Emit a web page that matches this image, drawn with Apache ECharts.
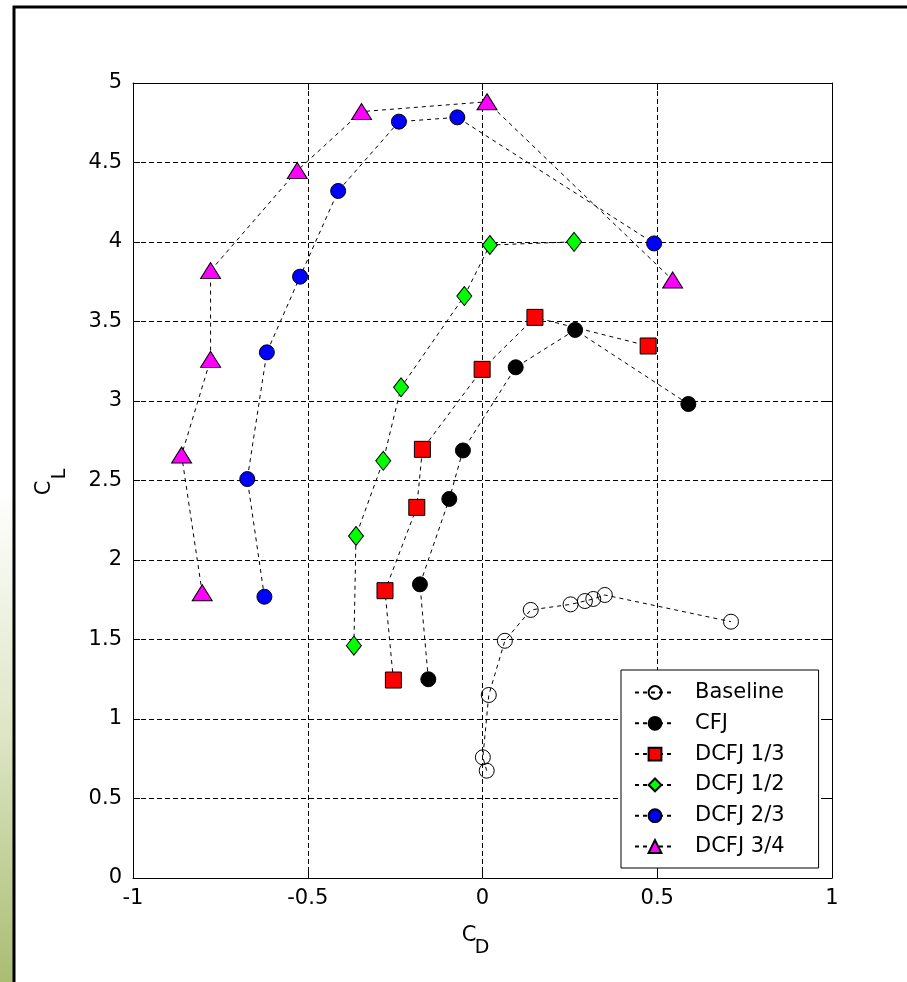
<!DOCTYPE html>
<html>
<head>
<meta charset="utf-8">
<script src="https://cdn.jsdelivr.net/npm/echarts@6/dist/echarts.min.js"></script>
<style>
html,body{margin:0;padding:0;background:#fff;}
#chart{width:907px;height:982px;}
</style>
</head>
<body>
<div id="chart"></div>
<script>
// ---- data (C_D, C_L) ----
const seriesNames = ['Baseline', 'CFJ', 'DCFJ 1/3', 'DCFJ 1/2', 'DCFJ 2/3', 'DCFJ 3/4'];

const baseCD = [0.012, 0.001, 0.018, 0.064, 0.138, 0.252, 0.293, 0.317, 0.350, 0.711];
const baseCL = [0.675, 0.759, 1.151, 1.492, 1.686, 1.721, 1.742, 1.755, 1.780, 1.612];

const cfjCD = [-0.155, -0.179, -0.095, -0.056, 0.095, 0.265, 0.589];
const cfjCL = [1.250, 1.847, 2.384, 2.689, 3.212, 3.447, 2.981];

const d13CD = [-0.255, -0.279, -0.188, -0.172, -0.001, 0.150, 0.474];
const d13CL = [1.245, 1.807, 2.331, 2.696, 3.199, 3.526, 3.346];

const d12CD = [-0.368, -0.362, -0.284, -0.233, -0.052, 0.021, 0.262];
const d12CL = [1.461, 2.151, 2.624, 3.086, 3.660, 3.981, 4.001];

const d23CD = [-0.624, -0.673, -0.617, -0.522, -0.413, -0.239, -0.072, 0.491];
const d23CL = [1.769, 2.509, 3.306, 3.782, 4.321, 4.757, 4.784, 3.991];

const d34CD = [-0.802, -0.861, -0.778, -0.778, -0.530, -0.346, 0.013, 0.544];
const d34CL = [1.794, 2.660, 3.262, 3.820, 4.449, 4.820, 4.882, 3.761];

const xTicks = [-1, -0.5, 0, 0.5, 1];
const yTicks = [0, 0.5, 1, 1.5, 2, 2.5, 3, 3.5, 4, 4.5, 5];

// ---- build ----
function pairs(xs, ys) { return xs.map((x, i) => [x, ys[i]]); }

const FONT = 'DejaVu Sans';
const FS = 21;

const styles = [
  {symbol: 'circle', size: 15, fill: 'rgba(0,0,0,0)'},
  {symbol: 'circle', size: 15, fill: '#000000'},
  {symbol: 'rect', size: 16, fill: '#ff0000'},
  {symbol: 'diamond', size: [15, 19], fill: '#00ff00'},
  {symbol: 'circle', size: 15, fill: '#0000ff'},
  {symbol: 'triangle', size: [20, 16], fill: '#ff00ff'}
];
const dataSets = [
  pairs(baseCD, baseCL),
  pairs(cfjCD, cfjCL),
  pairs(d13CD, d13CL),
  pairs(d12CD, d12CL),
  pairs(d23CD, d23CL),
  pairs(d34CD, d34CL)
];

const series = seriesNames.map((name, i) => ({
  name: name,
  type: 'line',
  data: dataSets[i],
  symbol: styles[i].symbol,
  symbolSize: styles[i].size,
  showAllSymbol: true,
  itemStyle: {color: styles[i].fill, borderColor: '#000', borderWidth: 1, opacity: 1},
  lineStyle: {color: '#000', width: 1, type: [4, 4]},
  emphasis: {disabled: true},
  z: 3 + i
}));

const axisCommon = {
  axisLine: {show: true, onZero: false, lineStyle: {color: '#000', width: 1}},
  axisTick: {show: true, inside: true, length: 7, lineStyle: {color: '#000', width: 1}}
};

const chart = echarts.init(document.getElementById('chart'), null, {renderer: 'canvas'});
chart.setOption({
  animation: false,
  backgroundColor: '#ffffff',
  grid: {left: 133, top: 83, width: 699, height: 795, show: true, backgroundColor: '#fff', borderWidth: 0},
  xAxis: [
    Object.assign({
      type: 'value', position: 'bottom', min: xTicks[0], max: xTicks[xTicks.length - 1], interval: 0.5,
      axisLabel: {color: '#000', fontFamily: FONT, fontSize: FS, margin: 10},
      splitLine: {show: true, lineStyle: {color: '#000', width: 1, type: [5, 3]}}
    }, axisCommon),
    Object.assign({
      type: 'value', position: 'top', min: xTicks[0], max: xTicks[xTicks.length - 1], interval: 0.5,
      axisLabel: {show: false}, splitLine: {show: false}
    }, axisCommon)
  ],
  yAxis: [
    Object.assign({
      type: 'value', position: 'left', min: yTicks[0], max: yTicks[yTicks.length - 1], interval: 0.5,
      axisLabel: {color: '#000', fontFamily: FONT, fontSize: FS, margin: 11},
      splitLine: {show: true, lineStyle: {color: '#000', width: 1, type: [5, 3]}}
    }, axisCommon),
    Object.assign({
      type: 'value', position: 'right', min: yTicks[0], max: yTicks[yTicks.length - 1], interval: 0.5,
      axisLabel: {show: false}, splitLine: {show: false}
    }, axisCommon)
  ],
  legend: {
    data: seriesNames,
    orient: 'vertical',
    left: 621, top: 670,
    padding: [12, 34, 11, 13],
    itemWidth: 40, itemHeight: 16, itemGap: 9.8,
    backgroundColor: '#fff',
    borderColor: '#000', borderWidth: 1, borderRadius: 0,
    selectedMode: false,
    textStyle: {color: '#000', fontFamily: FONT, fontSize: FS, lineHeight: 16, padding: [0, 0, 0, 15]}
  },
  series: series,
  graphic: [
    {
      type: 'rect', left: 0, top: 0, z: -10, silent: true,
      shape: {x: 0, y: 0, width: 13, height: 982},
      style: {fill: new echarts.graphic.LinearGradient(0, 0, 0, 1, [
        {offset: 0, color: '#ffffff'},
        {offset: 0.5, color: '#ffffff'},
        {offset: 0.75, color: '#dde5c4'},
        {offset: 1, color: '#aabd72'}
      ])}
    },
    {
      type: 'rect', z: 100, silent: true,
      shape: {x: 14, y: 7, width: 1000, height: 1000},
      style: {fill: null, stroke: '#000', lineWidth: 3}
    },
    {
      type: 'text', x: 469, y: 936, z: 100, silent: true,
      style: {text: 'C', font: '21px "DejaVu Sans"', fill: '#000', textAlign: 'center', textVerticalAlign: 'middle'}
    },
    {
      type: 'text', x: 482, y: 948, z: 100, silent: true,
      style: {text: 'D', font: '19px "DejaVu Sans"', fill: '#000', textAlign: 'center', textVerticalAlign: 'middle'}
    },
    {
      type: 'text', x: 45, y: 488, rotation: Math.PI / 2, z: 100, silent: true,
      style: {text: 'C', font: '21px "DejaVu Sans"', fill: '#000', textAlign: 'center', textVerticalAlign: 'middle'}
    },
    {
      type: 'text', x: 60, y: 474, rotation: Math.PI / 2, z: 100, silent: true,
      style: {text: 'L', font: '19px "DejaVu Sans"', fill: '#000', textAlign: 'center', textVerticalAlign: 'middle'}
    }
  ]
});
</script>
</body>
</html>
